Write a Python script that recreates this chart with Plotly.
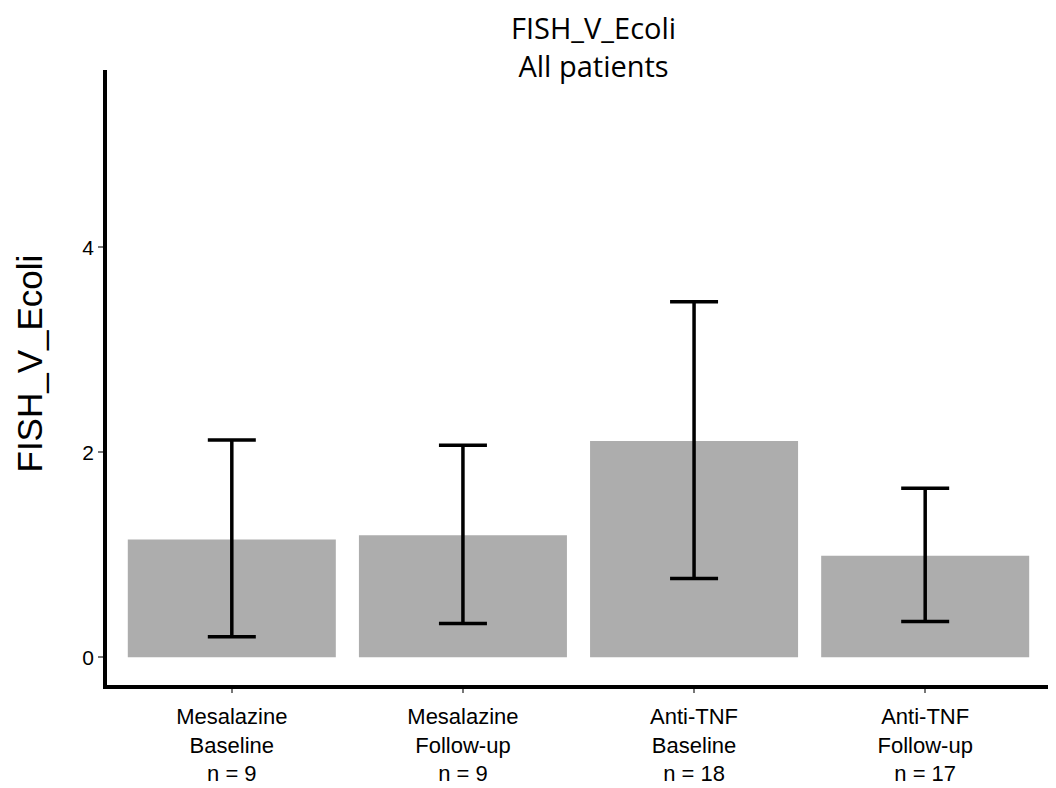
import plotly.graph_objects as go

categories = ["Mesalazine<br>Baseline<br>n = 9", "Mesalazine<br>Follow-up<br>n = 9",
              "Anti-TNF<br>Baseline<br>n = 18", "Anti-TNF<br>Follow-up<br>n = 17"]
means = [1.15, 1.19, 2.11, 0.99]
upper = [2.12, 2.07, 3.47, 1.65]
lower = [0.20, 0.33, 0.77, 0.35]
yticks = [0, 2, 4]

xpos = list(range(1, len(categories) + 1))
err_plus = [u - m for u, m in zip(upper, means)]
err_minus = [m - l for m, l in zip(means, lower)]

fig = go.Figure(go.Bar(
    x=xpos, y=means, width=0.9,
    marker=dict(color="#adadad", line=dict(width=0)),
    error_y=dict(type="data", symmetric=False, array=err_plus, arrayminus=err_minus,
                 color="black", thickness=3.5, width=24),
))

fig.update_layout(
    width=1048, height=780,
    margin=dict(l=99, r=6, t=62, b=103),
    plot_bgcolor="white", paper_bgcolor="white",
    showlegend=False,
    font=dict(family="Liberation Sans", color="black"),
    annotations=[
        dict(text="FISH_V_Ecoli<br>All patients", xref="paper", yref="paper",
             x=0.516, y=1.0, yshift=24, xanchor="center", yanchor="middle", showarrow=False,
             font=dict(family="Open Sans", size=29, color="black")),
        dict(text="FISH_V_Ecoli", xref="paper", yref="paper", textangle=-90,
             x=0, xshift=-78, y=0.5, yshift=14, xanchor="center", yanchor="middle",
             showarrow=False,
             font=dict(family="Liberation Sans", size=35, color="black")),
    ],
)
fig.update_xaxes(
    range=[0.46, 4.54], tickvals=xpos, ticktext=categories, automargin=False,
    showline=True, linecolor="black", linewidth=3.5,
    ticks="outside", ticklen=4, tickcolor="#777777", tickwidth=1.5,
    ticklabelstandoff=5,
    tickfont=dict(family="Liberation Sans", size=22, color="black"),
    showgrid=False, zeroline=False,
)
fig.update_yaxes(
    range=[-0.27, 5.73], tickvals=yticks, ticktext=[str(v) for v in yticks], automargin=False,
    showline=True, linecolor="black", linewidth=3.5,
    ticks="outside", ticklen=5, tickcolor="#777777", tickwidth=1.5,
    tickfont=dict(family="Liberation Sans", size=21, color="black"),
    showgrid=False, zeroline=False,
)

fig.write_html("out.html")
